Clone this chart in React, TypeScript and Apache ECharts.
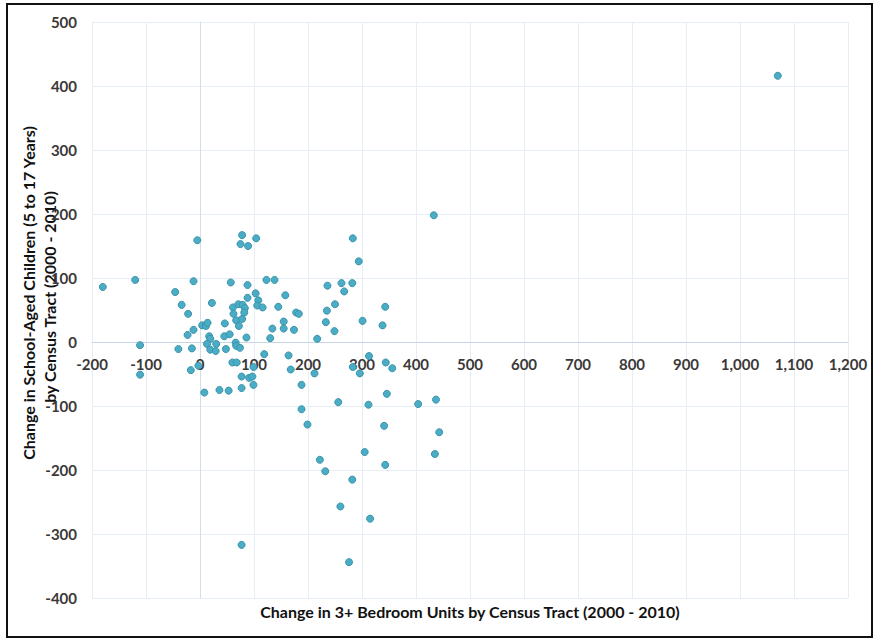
import React, { useEffect, useRef } from "react";
import * as echarts from "echarts";

const xTitle = "Change in 3+ Bedroom Units by Census Tract (2000 - 2010)";
const yTitleLine1 = "Change in School-Aged Children (5 to 17 Years)";
const yTitleLine2 = "by Census Tract (2000 - 2010)";

const xMin = -200;
const xMax = 1200;
const xStep = 100;
const yMin = -400;
const yMax = 500;
const yStep = 100;

// Change in 3+ bedroom units per tract
const bedroomChange: number[] = [
  -180, -120, -111, -111, -46, -34, -22, -12, -23, -40, -15, -17, -12, -5, -3, 8,
  4, 11, 14, 22, 17, 19, 13, 30, 19, 29, 45, 55, 46, 48,
  57, 61, 62, 67, 71, 78, 79, 83, 82, 72, 86, 66, 67, 74,
  60, 68, 99, 77, 91, 97, 99, 77, 36, 53,
  78, 75, 89, 104, 88, 88, 103, 108, 106, 116, 123, 138, 145, 158,
  155, 155, 134, 130, 174, 178, 183, 119, 164, 168, 188, 188, 199,
  212, 217, 233, 235, 236, 249, 250, 262, 267, 282, 283, 294, 301,
  313, 283, 296, 338, 343, 344, 356, 346, 256, 312, 404, 437, 433,
  341, 443, 222, 232, 305, 343, 435, 282, 260, 315, 77, 276, 1070,
];

// Change in school-aged children (5 to 17 years) per tract
const childrenChange: number[] = [
  86, 97, -5, -51, 78, 58, 44, 19, 11, -11, -10, -44, 95, 159, -37, -79,
  26, 25, 30, 61, 9, 5, -3, -3, -12, -14, 9, 12, 29, -11,
  93, 54, 44, 34, 59, 36, 58, 53, 46, 25, 7, -1, -6, -9,
  -32, -32, -39, -54, -56, -54, -67, -72, -75, -76,
  167, 153, 150, 162, 89, 69, 76, 65, 57, 54, 97, 97, 55, 73,
  32, 21, 21, 6, 19, 46, 44, -19, -21, -43, -67, -105, -129,
  -49, 5, 31, 49, 88, 17, 59, 92, 79, 92, 162, 126, 33,
  -22, -39, -49, 26, 55, -32, -41, -81, -94, -98, -97, -90, 198,
  -131, -141, -184, -202, -172, -192, -175, -215, -257, -276, -317, -344, 416,
];

const fmt = (v: number) => v.toLocaleString("en-US");

const GRID_TOP = 22;
const GRID_BOTTOM = 41;
const CHART_H = 639;

export default function App() {
  const ref = useRef<HTMLDivElement>(null);

  useEffect(() => {
    document.body.style.margin = "0";
    if (!ref.current) return;
    const chart = echarts.init(ref.current, null, { renderer: "svg" });
    const points = bedroomChange.map((x, i) => [x, childrenChange[i]]);
    // distance from the grid's bottom edge up to the y = 0 line
    const plotH = CHART_H - GRID_TOP - GRID_BOTTOM;
    const zeroLift = (plotH * (0 - yMin)) / (yMax - yMin);
    const tickFont = {
      fontFamily: "Lato",
      fontWeight: "bold" as const,
      fontSize: 15,
      color: "#3b3838",
    };
    const titleStyle = {
      fontFamily: "Lato",
      fontWeight: "bold" as const,
      fontSize: 16,
      fill: "#111111",
      align: "center" as const,
      verticalAlign: "middle" as const,
    };
    chart.setOption({
      animation: false,
      backgroundColor: "#ffffff",
      grid: { left: 92, right: 27, top: GRID_TOP, bottom: GRID_BOTTOM, containLabel: false },
      xAxis: {
        type: "value",
        position: "bottom",
        offset: -zeroLift,
        min: xMin,
        max: xMax,
        interval: xStep,
        axisLine: { show: true, onZero: false, lineStyle: { color: "#c6d5e8", width: 1 } },
        axisTick: { show: false },
        axisLabel: { ...tickFont, margin: 14, formatter: (v: number) => fmt(v) },
        splitLine: { show: true, lineStyle: { color: "#e6edf5", width: 1 } },
      },
      yAxis: {
        type: "value",
        min: yMin,
        max: yMax,
        interval: yStep,
        axisLine: { show: true, onZero: true, lineStyle: { color: "#d3deec", width: 1 } },
        axisTick: { show: false },
        axisLabel: { ...tickFont, margin: 15, formatter: (v: number) => fmt(v) },
        splitLine: { show: true, lineStyle: { color: "#e6edf5", width: 1 } },
      },
      series: [
        {
          type: "scatter",
          data: points,
          symbol: "circle",
          symbolSize: 7,
          itemStyle: { color: "#4bacc6", borderColor: "#3a94aa", borderWidth: 1, opacity: 1 },
        },
      ],
      graphic: [
        {
          type: "rect",
          shape: { x: 7, y: 4, width: 865, height: 633 },
          style: { fill: "none", stroke: "#111", lineWidth: 2 },
          silent: true,
          z: 100,
        },
        { type: "text", x: 470, y: 611, style: { ...titleStyle, text: xTitle } },
        { type: "text", x: 28, y: 293, rotation: Math.PI / 2, style: { ...titleStyle, text: yTitleLine1 } },
        { type: "text", x: 49, y: 297, rotation: Math.PI / 2, style: { ...titleStyle, text: yTitleLine2 } },
      ],
    });
    return () => chart.dispose();
  }, []);

  return (
    <div
      ref={ref}
      style={{ position: "fixed", left: 0, top: 0, width: 875, height: 639, background: "#fff" }}
    />
  );
}
